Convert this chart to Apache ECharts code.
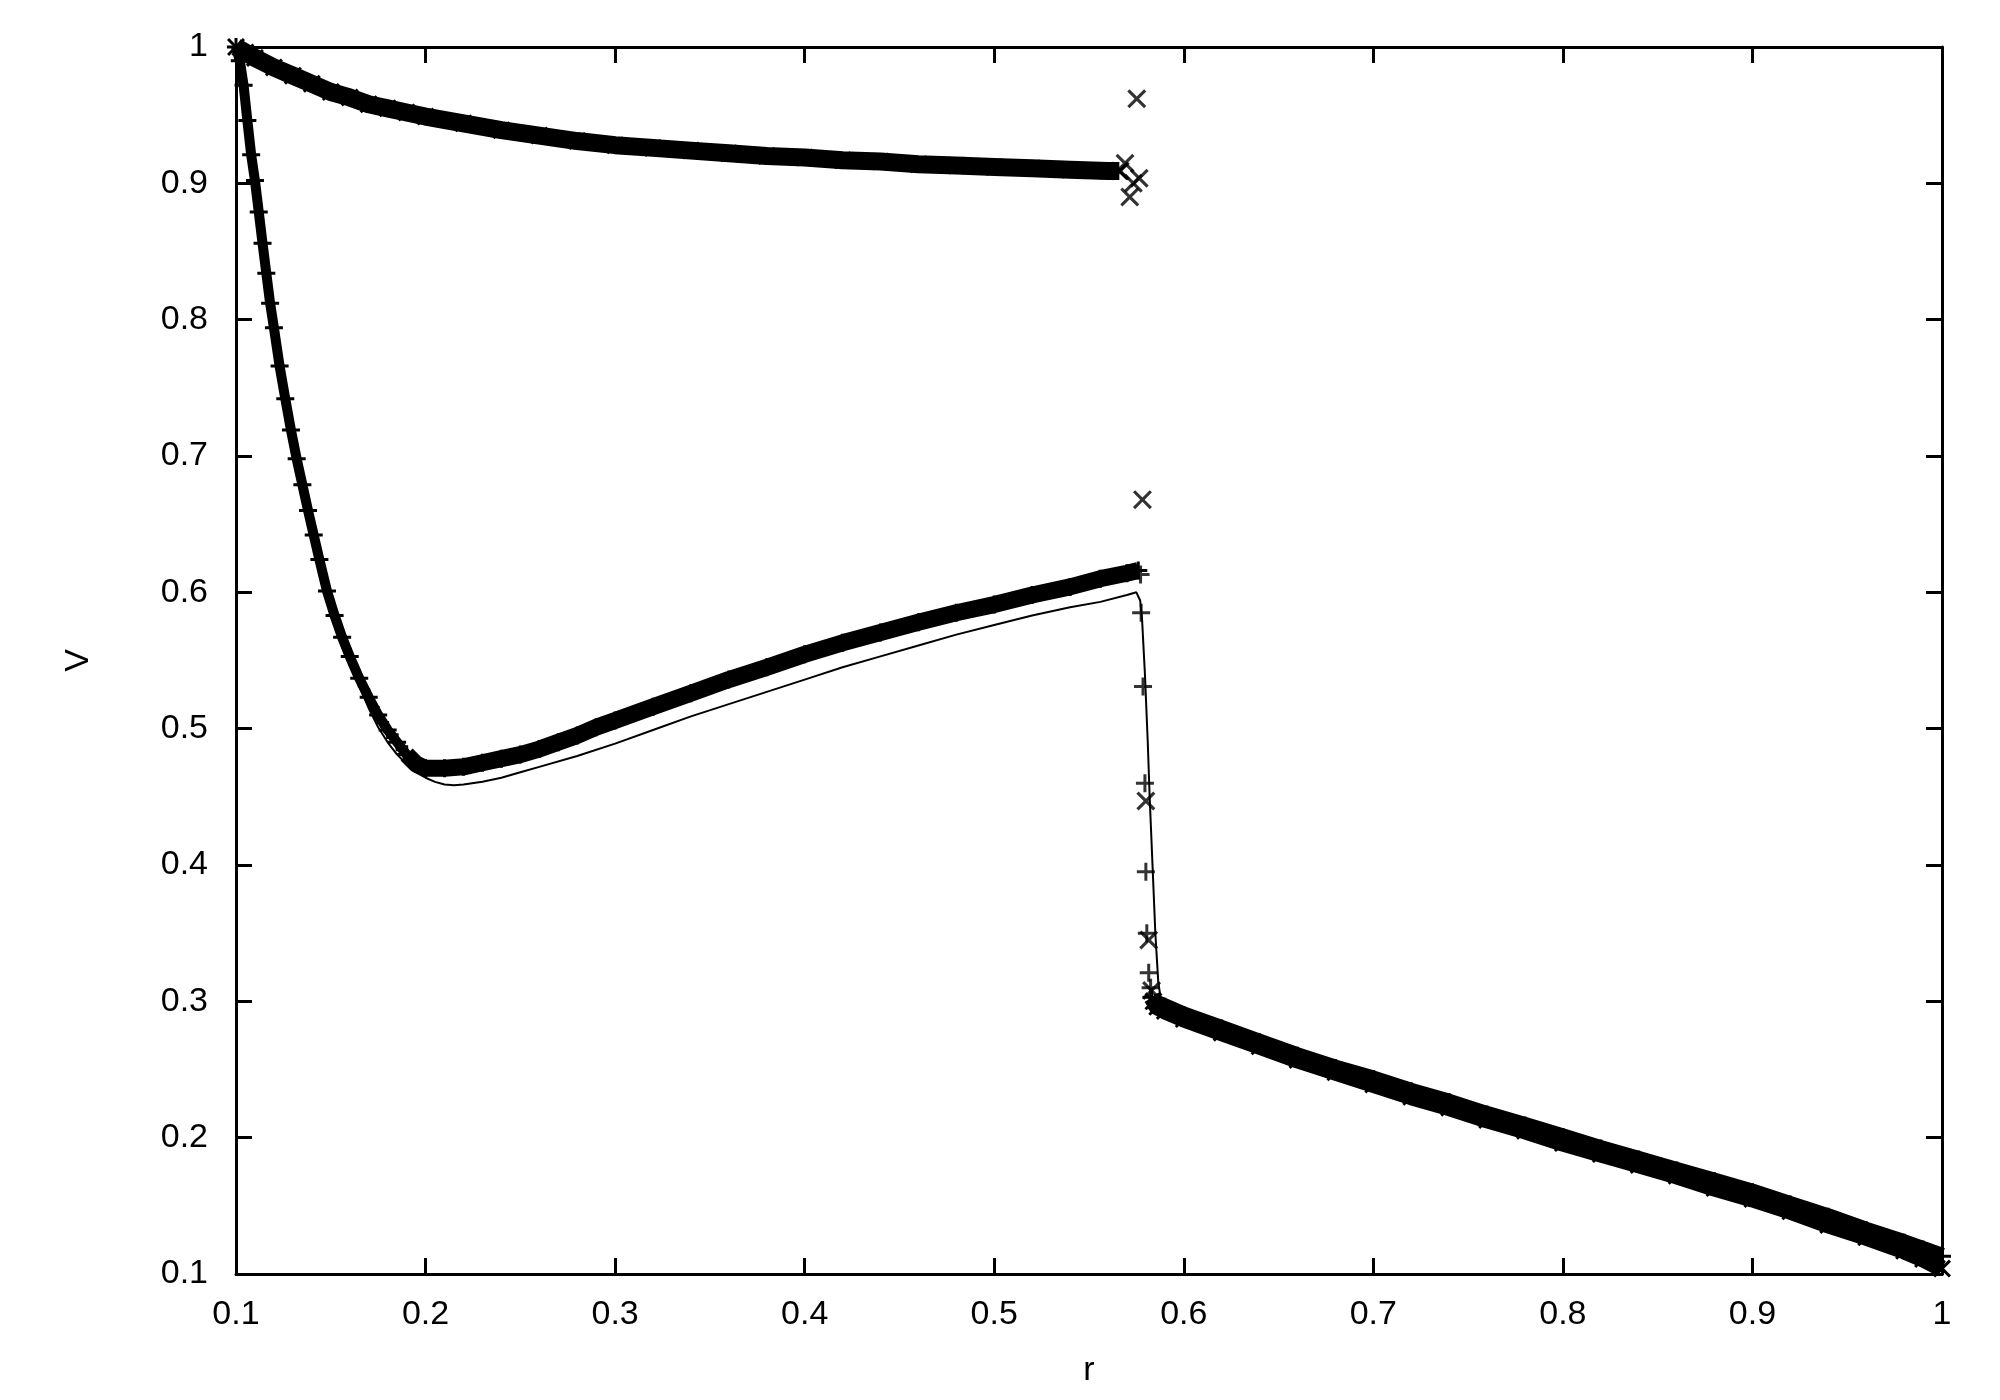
<!DOCTYPE html>
<html>
<head>
<meta charset="utf-8">
<script src="https://cdn.jsdelivr.net/npm/echarts@6/dist/echarts.min.js"></script>
<style>
  html, body { margin: 0; padding: 0; background: #fff; }
  #chart { width: 2000px; height: 1400px; }
</style>
</head>
<body>
<div id="chart"></div>
<script>
const xTicks = [0.1, 0.2, 0.3, 0.4, 0.5, 0.6, 0.7, 0.8, 0.9, 1];
const yTicks = [0.1, 0.2, 0.3, 0.4, 0.5, 0.6, 0.7, 0.8, 0.9, 1];

// '+' points, steep fall from r = 0.1
const plusFall = [
  [0.100, 1.000], [0.102, 0.990], [0.104, 0.972], [0.106, 0.946], [0.108, 0.921],
  [0.110, 0.902], [0.112, 0.879], [0.114, 0.856], [0.116, 0.834], [0.118, 0.812],
  [0.120, 0.794], [0.123, 0.766], [0.126, 0.742], [0.129, 0.719], [0.132, 0.698],
  [0.135, 0.679], [0.138, 0.660], [0.141, 0.642], [0.144, 0.624], [0.148, 0.601],
  [0.152, 0.583], [0.156, 0.567], [0.160, 0.553], [0.165, 0.537], [0.170, 0.523],
  [0.175, 0.510], [0.180, 0.499], [0.185, 0.490], [0.190, 0.481], [0.195, 0.474]
];
// '+' points, slow rise up to the jump
const plusRise = [
  [0.190, 0.481], [0.195, 0.474], [0.200, 0.471], [0.210, 0.471],
  [0.220, 0.472], [0.230, 0.475], [0.240, 0.478], [0.250, 0.481], [0.260, 0.485],
  [0.270, 0.490], [0.280, 0.495], [0.290, 0.501], [0.300, 0.506], [0.320, 0.516],
  [0.340, 0.526], [0.360, 0.536], [0.380, 0.545], [0.400, 0.5545], [0.420, 0.563],
  [0.440, 0.5705], [0.460, 0.578], [0.480, 0.585], [0.500, 0.591], [0.520, 0.598],
  [0.540, 0.604], [0.556, 0.610], [0.570, 0.614], [0.576, 0.616]
];
const plusJump = [
  [0.5772, 0.613], [0.5775, 0.585], [0.5785, 0.531], [0.5795, 0.460],
  [0.5800, 0.395], [0.5805, 0.350], [0.5815, 0.321], [0.5825, 0.310]
];
const plusLow = [
  [0.583, 0.303], [0.585, 0.299], [0.590, 0.296], [0.600, 0.290], [0.620, 0.280],
  [0.640, 0.270], [0.660, 0.260], [0.680, 0.251], [0.700, 0.243], [0.720, 0.234],
  [0.740, 0.226], [0.760, 0.217], [0.780, 0.209], [0.800, 0.2005], [0.820, 0.192],
  [0.840, 0.184], [0.860, 0.176], [0.880, 0.168], [0.900, 0.160], [0.920, 0.151],
  [0.940, 0.142], [0.960, 0.132], [0.980, 0.123], [0.990, 0.118], [1.000, 0.113]
];

// 'x' points
const crossTop = [
  [0.100, 1.000], [0.105, 0.996], [0.110, 0.992], [0.120, 0.985], [0.130, 0.979],
  [0.140, 0.973], [0.150, 0.967], [0.160, 0.963], [0.170, 0.958], [0.180, 0.955],
  [0.190, 0.952], [0.200, 0.949], [0.220, 0.944], [0.240, 0.939], [0.260, 0.935],
  [0.280, 0.931], [0.300, 0.928], [0.320, 0.926], [0.340, 0.924], [0.360, 0.922],
  [0.380, 0.920], [0.400, 0.919], [0.420, 0.917], [0.440, 0.916], [0.460, 0.914],
  [0.480, 0.913], [0.500, 0.912], [0.520, 0.911], [0.540, 0.910], [0.560, 0.909],
  [0.566, 0.909]
];
const crossJump = [
  [0.5665, 0.909], [0.5690, 0.9147], [0.5734, 0.900], [0.5765, 0.9037], [0.5715, 0.890],
  [0.5752, 0.962], [0.5782, 0.668], [0.5800, 0.447], [0.5815, 0.345], [0.5830, 0.308]
];
const crossLow = [
  [0.584, 0.300], [0.586, 0.296], [0.590, 0.293], [0.600, 0.287], [0.620, 0.277],
  [0.640, 0.267], [0.660, 0.257], [0.680, 0.248], [0.700, 0.239], [0.720, 0.230],
  [0.740, 0.222], [0.760, 0.213], [0.780, 0.205], [0.800, 0.196], [0.820, 0.188],
  [0.840, 0.180], [0.860, 0.172], [0.880, 0.163], [0.900, 0.155], [0.920, 0.146],
  [0.940, 0.136], [0.960, 0.127], [0.980, 0.117], [0.990, 0.111], [1.000, 0.104]
];

// solid curve
const solidLine = [
  [0.100, 1.000], [0.104, 0.965], [0.108, 0.918], [0.112, 0.876], [0.116, 0.832],
  [0.120, 0.790], [0.125, 0.748], [0.130, 0.710], [0.135, 0.676], [0.140, 0.646],
  [0.145, 0.617], [0.150, 0.592], [0.155, 0.569], [0.160, 0.549], [0.165, 0.531],
  [0.170, 0.515], [0.175, 0.501], [0.180, 0.490], [0.185, 0.481], [0.190, 0.474],
  [0.195, 0.468], [0.200, 0.464], [0.205, 0.461], [0.210, 0.459], [0.215, 0.4585],
  [0.220, 0.459], [0.230, 0.461], [0.240, 0.464], [0.250, 0.468], [0.260, 0.472],
  [0.280, 0.480], [0.300, 0.489], [0.320, 0.499], [0.340, 0.509], [0.360, 0.518],
  [0.380, 0.527], [0.400, 0.536], [0.420, 0.545], [0.440, 0.553], [0.460, 0.561],
  [0.480, 0.569], [0.500, 0.576], [0.520, 0.583], [0.540, 0.589], [0.556, 0.593],
  [0.570, 0.598], [0.575, 0.600], [0.577, 0.594], [0.578, 0.580], [0.5795, 0.540],
  [0.581, 0.490], [0.582, 0.450], [0.5835, 0.400], [0.585, 0.350], [0.5865, 0.315],
  [0.588, 0.300], [0.590, 0.295], [0.600, 0.290], [0.650, 0.266], [0.700, 0.242],
  [0.750, 0.219], [0.800, 0.198], [0.850, 0.178], [0.900, 0.157], [0.950, 0.134],
  [1.000, 0.108]
];

const FONT = 'Liberation Sans';
const plusPath = 'path://M7.5,0H10.5V7.5H18V10.5H10.5V18H7.5V10.5H0V7.5H7.5Z';
const crossPath = 'path://M0,2.1L2.1,0L9,6.9L15.9,0L18,2.1L11.1,9L18,15.9L15.9,18L9,11.1L2.1,18L0,15.9L6.9,9Z';

function band(data, symbol, width) {
  return {
    type: 'line',
    data: data,
    symbol: symbol,
    symbolSize: 18,
    showAllSymbol: true,
    clip: false,
    silent: true,
    itemStyle: { color: '#000' },
    lineStyle: { color: '#000', width: width, cap: 'butt', join: 'round' }
  };
}

function dots(data, symbol, size) {
  return {
    type: 'scatter',
    data: data,
    symbol: symbol,
    symbolSize: size,
    clip: false,
    silent: true,
    itemStyle: { color: '#000' }
  };
}

function fmt(v) {
  return String(Math.round(v * 10) / 10);
}

function makeAxis(ticks, position, showLabel, name, nameGap) {
  return {
    type: 'value',
    position: position,
    min: ticks[0],
    max: ticks[ticks.length - 1],
    interval: 0.1,
    name: name,
    nameLocation: 'middle',
    nameGap: nameGap,
    nameTextStyle: { fontFamily: FONT, fontSize: 34, color: '#000' },
    axisLine: { show: true, onZero: false, lineStyle: { color: '#000', width: 3 } },
    axisTick: { show: true, inside: true, length: 16, lineStyle: { color: '#000', width: 3 } },
    axisLabel: {
      show: showLabel,
      showMinLabel: true,
      showMaxLabel: true,
      fontFamily: FONT,
      fontSize: 34,
      color: '#000',
      margin: position === 'bottom' ? 24 : 28,
      formatter: fmt
    },
    splitLine: { show: false }
  };
}

const chart = echarts.init(document.getElementById('chart'));
chart.setOption({
  animation: false,
  backgroundColor: '#fff',
  grid: { left: 236, right: 58, top: 47, bottom: 126, containLabel: false },
  xAxis: [
    makeAxis(xTicks, 'bottom', true, 'r', 80),
    makeAxis(xTicks, 'top', false, '', 0)
  ],
  yAxis: [
    makeAxis(yTicks, 'left', true, 'V', 140),
    makeAxis(yTicks, 'right', false, '', 0)
  ],
  series: [
    band(crossTop, crossPath, 18),
    band(plusFall, plusPath, 10),
    band(plusRise, plusPath, 17),
    band(plusLow, plusPath, 17),
    band(crossLow, crossPath, 17),
    dots(plusJump, plusPath, 18),
    dots(crossJump, crossPath, 19),
    {
      type: 'line',
      data: solidLine,
      symbol: 'none',
      clip: false,
      silent: true,
      lineStyle: { color: '#000', width: 2 }
    }
  ]
});
</script>
</body>
</html>
